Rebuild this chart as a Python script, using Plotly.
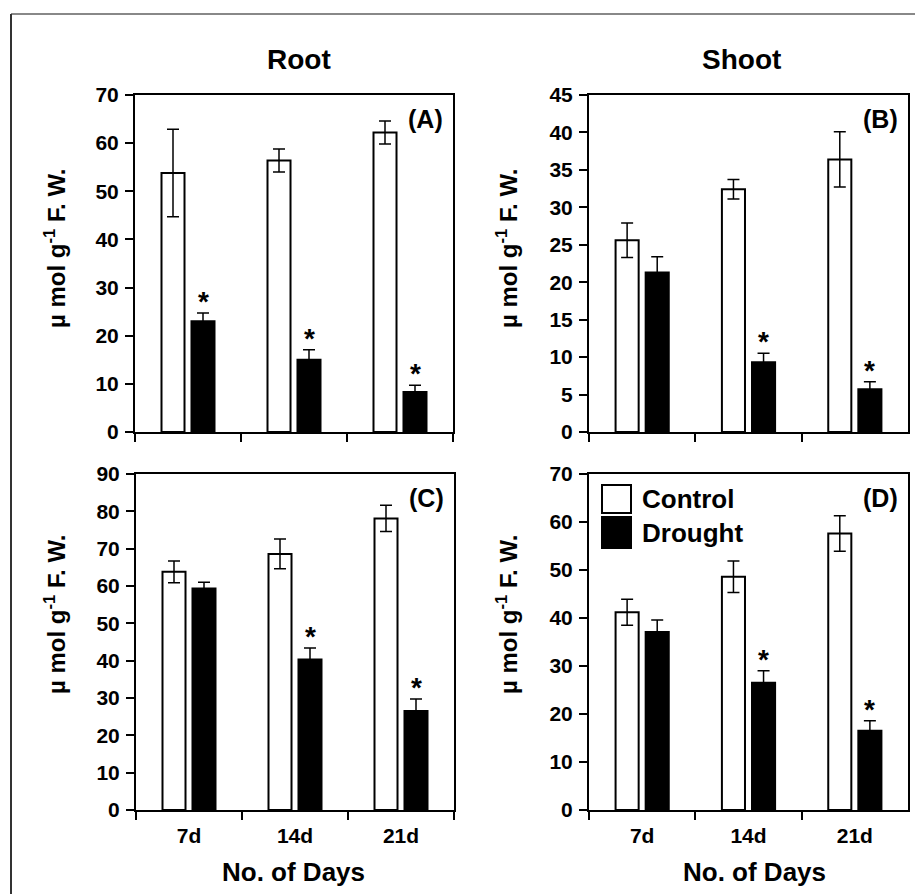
import plotly.graph_objects as go

# ---------------- data ----------------
days = ["7d", "14d", "21d"]

a_control = [53.8, 56.4, 62.2]
a_control_err = [9.1, 2.4, 2.4]
a_drought = [23.0, 15.0, 8.3]
a_drought_err = [1.7, 2.1, 1.4]
a_sig = [True, True, True]

b_control = [25.6, 32.4, 36.4]
b_control_err = [2.3, 1.3, 3.7]
b_drought = [21.3, 9.3, 5.7]
b_drought_err = [2.1, 1.2, 1.0]
b_sig = [False, True, True]

c_control = [63.8, 68.6, 78.1]
c_control_err = [2.9, 4.0, 3.5]
c_drought = [59.3, 40.3, 26.5]
c_drought_err = [1.7, 3.1, 3.2]
c_sig = [False, True, True]

d_control = [41.2, 48.6, 57.6]
d_control_err = [2.7, 3.3, 3.7]
d_drought = [37.1, 26.5, 16.5]
d_drought_err = [2.5, 2.5, 2.1]
d_sig = [False, True, True]

y_max = [70, 45, 90, 70]
y_step = [10, 5, 10, 10]
panel_labels = ["(A)", "(B)", "(C)", "(D)"]
column_titles = ["Root", "Shoot"]
series_names = ["Control", "Drought"]
y_title = "\u00b5 mol g<sup>-1</sup> F. W."
x_title = "No. of Days"

# ---------------- figure ----------------
W, H = 915, 894
FONT = "Liberation Sans, Arial, sans-serif"


def px(x):
    return x / W


def py(y):
    return 1 - y / H


panels = [
    (a_control, a_control_err, a_drought, a_drought_err, a_sig),
    (b_control, b_control_err, b_drought, b_drought_err, b_sig),
    (c_control, c_control_err, c_drought, c_drought_err, c_sig),
    (d_control, d_control_err, d_drought, d_drought_err, d_sig),
]

# plot-area pixel boxes (left, right, top, bottom)
boxes = [
    (135, 453, 95, 432),
    (589, 908, 95, 432),
    (136, 454, 474, 810),
    (589, 908, 474, 810),
]

fig = go.Figure()
annotations = []
shapes = []

for i, (ctl, ctl_e, dr, dr_e, sig) in enumerate(panels):
    n = "" if i == 0 else str(i + 1)
    xa, ya = "x" + n, "y" + n
    fig.add_trace(go.Bar(
        x=days, y=ctl, name=series_names[0], xaxis=xa, yaxis=ya,
        marker=dict(color="white", line=dict(color="black", width=2)),
        error_y=dict(type="data", array=ctl_e, color="black", thickness=1.5, width=6),
        showlegend=False,
    ))
    fig.add_trace(go.Bar(
        x=days, y=dr, name=series_names[1], xaxis=xa, yaxis=ya,
        marker=dict(color="black", line=dict(color="black", width=2)),
        error_y=dict(type="data", array=dr_e, color="black", thickness=1.5, width=6),
        showlegend=False,
    ))
    l, r, t, b = boxes[i]
    bottom_row = i >= 2
    fig.update_layout(**{
        "xaxis" + n: dict(
            domain=[px(l), px(r)], anchor=ya, type="category",
            range=[-0.5, 2.5], tickson="boundaries", ticks="outside",
            ticklen=8, tickwidth=2, tickcolor="black", automargin=False,
            showline=True, linewidth=2, linecolor="black", mirror=True,
            showgrid=False, zeroline=False, showticklabels=bottom_row,
            ticklabelstandoff=6,
            tickfont=dict(family=FONT, size=21, color="black", weight="bold"),
        ),
        "yaxis" + n: dict(
            domain=[py(b), py(t)], anchor=xa, automargin=False,
            range=[0, y_max[i]], dtick=y_step[i], tick0=0, ticks="outside",
            ticklen=8, tickwidth=2, tickcolor="black",
            showline=True, linewidth=2, linecolor="black", mirror=True,
            showgrid=False, zeroline=False, ticklabelstandoff=2,
            tickfont=dict(family=FONT, size=21, color="black", weight="bold"),
        ),
    })
    # significance asterisks over drought bars
    for k in range(len(days)):
        if sig[k]:
            annotations.append(dict(
                x=k + 0.1415, y=dr[k] + dr_e[k], xref=xa, yref=ya,
                text="*", showarrow=False, yanchor="bottom", yshift=-6,
                font=dict(family=FONT, size=28, color="black", weight="bold"),
            ))
    # panel label
    annotations.append(dict(
        x=px(r - 8), y=py(t + 24), xref="paper", yref="paper",
        text=panel_labels[i], showarrow=False, xanchor="right", yanchor="middle",
        font=dict(family=FONT, size=25, color="black", weight="bold"),
    ))
    # y title
    ycx = 55 if i % 2 == 0 else 507
    ycy = 249 if i < 2 else 615
    annotations.append(dict(
        x=px(ycx), y=py(ycy), xref="paper", yref="paper", textangle=-90,
        text=y_title, showarrow=False, xanchor="center", yanchor="middle",
        font=dict(family=FONT, size=24, color="black", weight="bold"),
    ))
    if bottom_row:
        annotations.append(dict(
            x=px(293 if i == 2 else 754), y=py(872), xref="paper", yref="paper",
            text=x_title, showarrow=False, xanchor="center", yanchor="middle",
            font=dict(family=FONT, size=26, color="black", weight="bold"),
        ))

# column titles
for j, cx in enumerate([299, 741]):
    annotations.append(dict(
        x=px(cx), y=py(59), xref="paper", yref="paper", text=column_titles[j],
        showarrow=False, xanchor="center", yanchor="middle",
        font=dict(family=FONT, size=28, color="black", weight="bold"),
    ))

# legend drawn inside panel D
legend_fill = ["white", "black"]
legend_rows = [(485, 513), (517, 548)]
for j, (y0, y1) in enumerate(legend_rows):
    shapes.append(dict(type="rect", xref="paper", yref="paper",
                       x0=px(602), x1=px(631), y0=py(y1), y1=py(y0),
                       fillcolor=legend_fill[j], line=dict(color="black", width=2)))
    annotations.append(dict(
        x=px(640), y=py((y0 + y1) / 2), xref="paper", yref="paper",
        text=series_names[j], showarrow=False, xanchor="left", yanchor="middle",
        font=dict(family=FONT, size=26, color="black", weight="bold"),
    ))

# outer frame lines
shapes.append(dict(type="line", xref="paper", yref="paper",
                   x0=px(11), x1=1.0, y0=py(14), y1=py(14),
                   line=dict(color="#888888", width=2)))
shapes.append(dict(type="line", xref="paper", yref="paper",
                   x0=px(11), x1=px(11), y0=py(14), y1=0,
                   line=dict(color="#333333", width=2)))

fig.update_layout(
    width=W, height=H, autosize=False,
    margin=dict(l=0, r=0, t=0, b=0, pad=0, autoexpand=False),
    paper_bgcolor="white", plot_bgcolor="white",
    barmode="group", bargap=0.434, bargroupgap=0.233,
    showlegend=False,
    annotations=annotations, shapes=shapes,
    font=dict(family=FONT, color="black"),
)

fig.write_html(
    "out.html",
    config={"displayModeBar": False},
    post_script=(
        "document.documentElement.style.margin='0';"
        "document.body.style.margin='0';document.body.style.padding='0';"
        "document.documentElement.style.overflow='hidden';"
        "document.body.style.overflow='hidden';"
        "var gd=document.getElementById('{plot_id}');"
        "gd.style.position='fixed';gd.style.top='0px';gd.style.left='0px';"
    ),
)
